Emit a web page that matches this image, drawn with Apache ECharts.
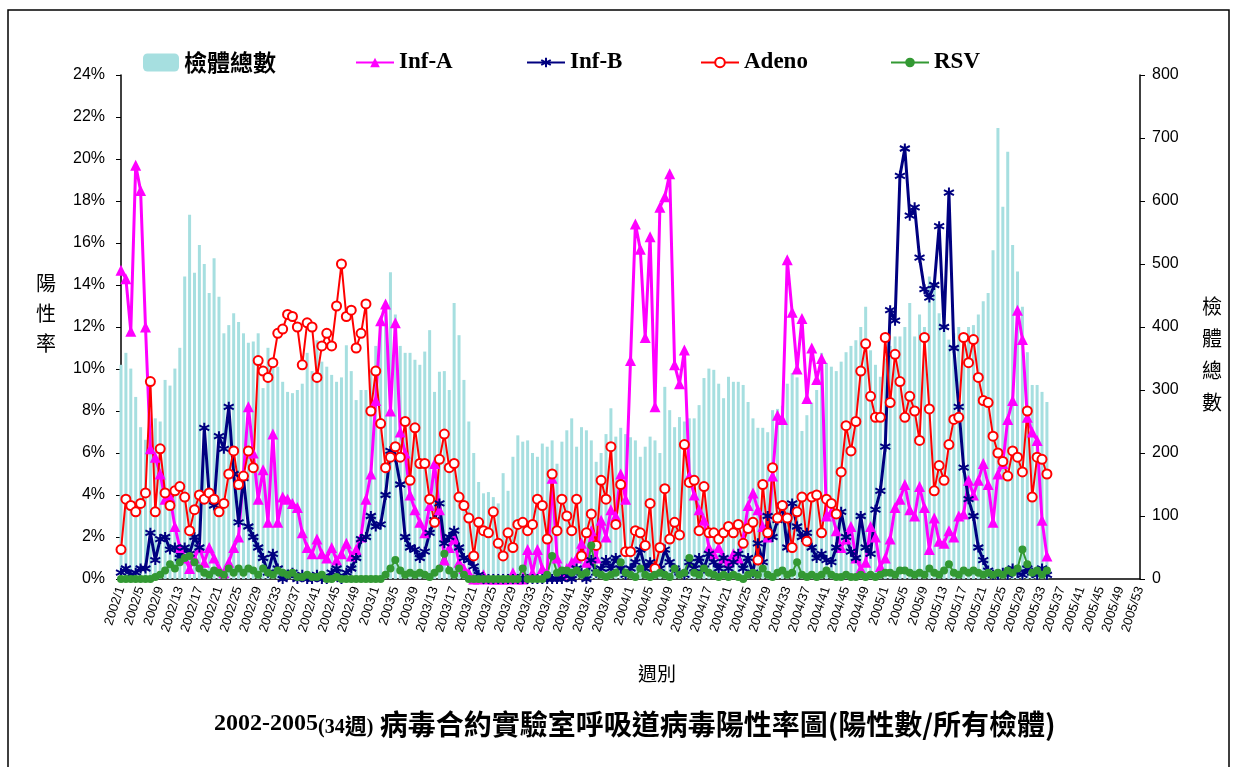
<!DOCTYPE html>
<html>
<head>
<meta charset="utf-8">
<script src="https://cdn.jsdelivr.net/npm/echarts@6/dist/echarts.min.js"></script>
<style>
  html, body { margin: 0; padding: 0; background: #fff; }
  #box { width: 1233px; height: 767px; }
</style>
</head>
<body>
<div id="box"></div>
<script>
// weeks per year on the category axis
var yearWeeks = [[2002, 52], [2003, 52], [2004, 52], [2005, 53]];
var weeks = [];
yearWeeks.forEach(function (yw) {
    for (var w = 1; w <= yw[1]; w++) weeks.push(yw[0] + '/' + w);
});

// 檢體總數 (right axis)
var total = [
    340, 359, 334, 289, 241, 221, 233, 255, 250, 316,
    307, 334, 367, 480, 578, 486, 530, 500, 454, 509,
    448, 390, 403, 422, 408, 390, 375, 377, 390, 303,
    367, 350, 337, 313, 297, 295, 300, 310, 359, 330,
    379, 345, 337, 324, 313, 320, 371, 330, 284, 300,
    300, 330, 370, 400, 420, 487, 420, 370, 359, 359,
    348, 340, 361, 395, 297, 329, 330, 300, 438, 387,
    316, 250, 200, 154, 136, 138, 130, 120, 168, 140,
    194, 228, 218, 220, 200, 194, 215, 210, 220, 183,
    218, 236, 255, 210, 241, 236, 220, 186, 200, 230,
    271, 226, 240, 230, 225, 220, 194, 210, 226, 220,
    200, 305, 268, 241, 257, 250, 255, 255, 276, 319,
    334, 332, 310, 287, 321, 313, 313, 308, 281, 255,
    240, 240, 233, 268, 270, 275, 310, 327, 320, 235,
    260, 280, 300, 359, 343, 337, 330, 345, 360, 370,
    379, 400, 432, 363, 340, 321, 350, 370, 385, 385,
    400, 438, 385, 420, 400, 480, 470, 422, 400, 380,
    390, 400, 380, 400, 403, 420, 441, 454, 522, 716,
    591, 678, 530, 488, 432, 360, 308, 308, 297, 281
];

// 陽性率 % (left axis)
var infA = [
    14.7, 14.3, 11.8, 19.7, 18.5, 12.0, 6.2, 5.8, 5.0, 3.8,
    3.9, 2.5, 1.5, 1.0, 0.5, 1.0, 1.5, 0.8, 1.5, 1.0,
    0.5, 0.3, 0.8, 1.5, 2.0, 5.0, 8.2, 6.0, 3.8, 5.2,
    2.7, 6.9, 2.7, 3.9, 3.8, 3.6, 3.4, 2.2, 1.5, 1.2,
    1.9, 1.2, 1.0, 1.5, 0.9, 1.2, 1.7, 1.1, 1.4, 2.0,
    3.8, 5.0, 8.5, 12.3, 13.1, 8.0, 12.2, 7.0, 6.0, 4.0,
    3.3, 2.7, 2.2, 3.5, 5.5, 3.3, 0.9, 1.5, 1.9, 0.8,
    0.5, 0.3, 0, 0, 0.2, 0, 0, 0, 0, 0,
    0.3, 0, 0, 1.4, 0.3, 1.4, 0.5, 0.3, 4.8, 1.0,
    0.2, 0.5, 0.8, 1.0, 1.7, 0.8, 2.3, 1.0, 2.8, 2.0,
    3.3, 3.0, 5.0, 3.8, 10.4, 16.9, 15.7, 11.5, 16.3, 8.2,
    17.7, 18.2, 19.3, 10.2, 9.3, 10.9, 4.9, 4.0, 3.3, 2.8,
    1.5, 1.2, 1.5, 1.0, 0.8, 1.2, 1.0, 1.9, 3.5, 4.1,
    3.3, 2.5, 2.0, 4.9, 7.8, 7.6, 15.2, 12.7, 10.0, 12.4,
    8.6, 11.0, 9.5, 10.5, 3.0, 3.2, 2.3, 1.5, 1.9, 2.5,
    1.0, 0.5, 0.8, 2.5, 2.0, 0.6, 1.0, 1.9, 3.4, 3.8,
    4.5, 3.3, 3.0, 4.4, 3.4, 1.4, 2.9, 1.8, 1.7, 2.3,
    2.0, 3.0, 3.1, 4.7, 4.0, 4.7, 5.5, 4.5, 2.7, 5.0,
    5.5, 7.6, 8.5, 12.8, 11.4, 7.7, 7.0, 6.6, 2.8, 1.1
];

var infB = [
    0.3, 0.5, 0.2, 0.3, 0.5, 0.5, 2.2, 0.9, 1.9, 2.0,
    1.4, 1.5, 1.0, 1.5, 1.2, 2.0, 1.5, 7.2, 4.0, 3.5,
    6.8, 6.2, 8.2, 5.0, 2.7, 4.8, 2.5, 2.0, 1.5, 1.0,
    0.3, 1.2, 0.5, 0, 0.2, 0.3, 0, 0.2, 0, 0,
    0.2, 0, 0, 0.3, 0.5, 0, 0.3, 0.5, 1.0, 1.9,
    2.0, 3.0, 2.5, 2.6, 4.0, 6.1, 5.8, 4.5, 2.0, 1.5,
    1.4, 1.0, 1.3, 2.2, 2.8, 3.6, 1.7, 2.0, 2.3, 1.5,
    1.0, 0.9, 0.6, 0.2, 0, 0, 0, 0, 0, 0,
    0, 0, 0, 0, 0, 0, 0, 0, 0, 0,
    0, 0.3, 0, 0.5, 0.3, 0, 0.9, 0.3, 0.5, 0.9,
    0.5, 1.0, 0.5, 0.2, 0.5, 0.8, 1.4, 0.5, 0.8, 0.3,
    0.5, 1.4, 0.8, 0.5, 0.3, 0.2, 0.8, 0.5, 1.0, 0.5,
    1.2, 0.8, 0.5, 1.0, 0.5, 0.8, 1.2, 0.5, 1.0, 0.3,
    1.7, 0.8, 3.0, 2.0, 2.8, 3.5, 1.5, 3.6, 2.5, 2.0,
    2.2, 1.5, 1.0, 1.2, 0.9, 0.8, 1.5, 3.2, 2.0, 1.3,
    1.0, 3.0, 1.5, 1.2, 3.3, 4.2, 6.3, 12.8, 12.3, 19.2,
    20.5, 17.3, 17.7, 15.3, 13.8, 13.4, 14.0, 16.8, 12.0, 18.4,
    11.0, 8.2, 5.3, 3.8, 3.0, 1.5, 0.9, 0.4, 0.2, 0.2,
    0.3, 0.2, 0.5, 0.3, 0.2, 0.5, 0.3, 0.2, 0.5, 0.2
];

var adeno = [
    1.4, 3.8, 3.5, 3.2, 3.6, 4.1, 9.4, 3.2, 6.2, 4.1,
    3.5, 4.2, 4.4, 3.9, 2.3, 3.3, 4.0, 3.8, 4.1, 3.8,
    3.2, 3.6, 5.0, 6.1, 4.5, 4.9, 6.1, 5.3, 10.4, 9.9,
    9.6, 10.3, 11.7, 11.9, 12.6, 12.5, 12.0, 10.2, 12.2, 12.0,
    9.6, 11.1, 11.7, 11.1, 13.0, 15.0, 12.5, 12.8, 11.0, 11.7,
    13.1, 8.0, 9.9, 7.4, 5.3, 5.8, 6.3, 5.8, 7.5, 4.7,
    7.2, 5.5, 5.5, 3.8, 2.7, 5.7, 6.9, 5.3, 5.5, 3.9,
    3.5, 2.9, 1.1, 2.7, 2.3, 2.2, 3.2, 1.7, 1.1, 2.2,
    1.5, 2.6, 2.7, 2.3, 2.6, 3.8, 3.5, 1.9, 5.0, 2.3,
    3.8, 3.0, 2.3, 3.8, 1.1, 2.2, 3.1, 1.6, 4.7, 3.8,
    6.3, 2.6, 4.5, 1.3, 1.3, 2.3, 2.2, 1.6, 3.6, 0.5,
    1.5, 4.3, 1.9, 2.7, 2.1, 6.4, 4.6, 4.7, 2.3, 4.4,
    2.2, 2.2, 1.9, 2.2, 2.5, 2.2, 2.6, 1.7, 2.4, 2.7,
    0.9, 4.5, 2.2, 5.3, 2.9, 3.5, 2.9, 1.5, 3.2, 3.9,
    1.8, 3.9, 4.0, 2.2, 3.8, 3.6, 3.1, 5.1, 7.3, 6.1,
    7.5, 9.9, 11.2, 8.7, 7.7, 7.7, 11.5, 8.4, 10.7, 9.4,
    7.7, 8.7, 8.0, 6.6, 11.5, 8.1, 4.2, 5.4, 4.7, 6.4,
    7.6, 7.7, 11.5, 10.3, 11.4, 9.6, 8.5, 8.4, 6.8, 6.0,
    5.6, 4.9, 6.1, 5.8, 5.1, 8.0, 3.9, 5.8, 5.7, 5.0
];

var rsv = [
    0, 0, 0, 0, 0, 0, 0, 0.1, 0.2, 0.4,
    0.7, 0.5, 0.8, 1.0, 1.1, 0.8, 0.5, 0.3, 0.2, 0.4,
    0.3, 0.2, 0.5, 0.3, 0.5, 0.3, 0.5, 0.4, 0.2, 0.5,
    0.3, 0.2, 0.4, 0.3, 0.2, 0.3, 0.1, 0.1, 0.2, 0.1,
    0.1, 0.2, 0, 0, 0.1, 0, 0, 0, 0, 0,
    0, 0, 0, 0, 0.2, 0.5, 0.9, 0.4, 0.2, 0.3,
    0.2, 0.3, 0.2, 0.1, 0.3, 0.5, 1.2, 0.4, 0.2, 0.5,
    0.2, 0, 0, 0, 0, 0, 0, 0, 0, 0,
    0, 0, 0.5, 0, 0, 0, 0, 0.2, 1.1, 0.3,
    0.4, 0.4, 0.3, 0.4, 0.2, 0.3, 1.6, 0.3, 0.2, 0.1,
    0.2, 0.3, 0.8, 0.3, 0.2, 0.1, 0.5, 0.2, 0.1, 0.2,
    0.3, 0.2, 0.1, 0.5, 0.2, 0.3, 1.0, 0.3, 0.2, 0.5,
    0.3, 0.2, 0.1, 0.2, 0.1, 0.2, 0.1, 0, 0.2, 0.3,
    0.2, 0.5, 0.2, 0.1, 0.3, 0.4, 0.2, 0.3, 0.8, 0.2,
    0.1, 0.2, 0.1, 0.2, 0.4, 0.2, 0.1, 0.1, 0.2, 0.1,
    0.1, 0.2, 0.1, 0.2, 0.1, 0.2, 0.3, 0.3, 0.2, 0.4,
    0.4, 0.3, 0.2, 0.3, 0.2, 0.5, 0.3, 0.2, 0.4, 0.7,
    0.3, 0.2, 0.4, 0.3, 0.4, 0.3, 0.2, 0.3, 0.2, 0.3,
    0.2, 0.4, 0.3, 0.5, 1.4, 0.7, 0.3, 0.4, 0.2, 0.4
];

var pctTicks = [0, 2, 4, 6, 8, 10, 12, 14, 16, 18, 20, 22, 24];
var cntTicks = [0, 100, 200, 300, 400, 500, 600, 700, 800];

var serif = '"Liberation Serif", "Times New Roman", serif';
var cjk = '"Noto Sans CJK TC", "Noto Sans CJK SC", sans-serif';
var sans = '"Liberation Sans", Arial, sans-serif';
var starPath = 'path://M5,0L5,10M0.7,2.5L9.3,7.5M9.3,2.5L0.7,7.5';

function legendAt(name, left, font, size) {
    return {
        data: [name],
        left: left,
        top: 51,
        padding: 0,
        itemWidth: name == '檢體總數' ? 36 : 38,
        itemHeight: name == '檢體總數' ? 18 : 12,
        itemGap: 5,
        textStyle: { fontFamily: font, fontSize: size, fontWeight: 'bold', color: '#000' }
    };
}

var myChart = echarts.init(document.getElementById('box'));
var option = {
    backgroundColor: '#fff',
    animation: false,
    title: {
        text: '{a|2002-2005}{b|(34}{w|週}{b|)}{c| 病毒合約實驗室呼吸道病毒陽性率圖(陽性數/所有檢體)}',
        left: 214,
        top: 710,
        padding: 0,
        textStyle: {
            rich: {
                a: { fontFamily: serif, fontWeight: 'bold', fontSize: 24, color: '#000' },
                b: { fontFamily: serif, fontWeight: 'bold', fontSize: 20, color: '#000', padding: [8, 0, 0, 0] },
                w: { fontFamily: cjk, fontWeight: 'bold', fontSize: 22, color: '#000', padding: [4, 0, 0, 0] },
                c: { fontFamily: cjk, fontWeight: 'bold', fontSize: 28, color: '#000' }
            }
        }
    },
    legend: [
        legendAt('檢體總數', 143, cjk, 23),
        legendAt('Inf-A', 355, serif, 23),
        legendAt('Inf-B', 526, serif, 23),
        legendAt('Adeno', 700, serif, 23),
        legendAt('RSV', 890, serif, 23)
    ],
    grid: {
        left: 121,
        right: 93,
        top: 75,
        bottom: 188,
        containLabel: false
    },
    xAxis: {
        type: 'category',
        data: weeks,
        boundaryGap: false,
        axisLine: { lineStyle: { color: '#000', width: 1.5 } },
        axisTick: { show: false },
        axisLabel: {
            interval: 3,
            rotate: 72,
            fontFamily: sans,
            fontSize: 13,
            color: '#000',
            margin: 8
        },
        splitLine: { show: false }
    },
    yAxis: [
        {
            type: 'value',
            min: pctTicks[0],
            max: pctTicks[pctTicks.length - 1],
            interval: 2,
            axisLine: { show: true, lineStyle: { color: '#000', width: 1.5 } },
            axisTick: { show: true, length: 5, lineStyle: { color: '#000' } },
            axisLabel: { formatter: '{value}%', fontFamily: sans, fontSize: 16, color: '#000', margin: 16 },
            splitLine: { show: false }
        },
        {
            type: 'value',
            min: cntTicks[0],
            max: cntTicks[cntTicks.length - 1],
            interval: 100,
            axisLine: { show: true, lineStyle: { color: '#000', width: 1.5 } },
            axisTick: { show: true, length: 5, lineStyle: { color: '#000' } },
            axisLabel: { fontFamily: sans, fontSize: 16, color: '#000', margin: 12 },
            splitLine: { show: false }
        }
    ],
    graphic: [
        { type: 'rect', shape: { x: 8, y: 10, width: 1221, height: 800 }, style: { fill: 'none', stroke: '#000', lineWidth: 1.5 }, silent: true },
        { type: 'text', left: 36, top: 268, style: { text: '陽\n性\n率', font: '20px ' + cjk, fill: '#000', lineHeight: 30 } },
        { type: 'text', left: 1202, top: 290, style: { text: '檢\n體\n總\n數', font: '20px ' + cjk, fill: '#000', lineHeight: 32 } },
        { type: 'text', left: 638, top: 664, style: { text: '週別', font: '19px ' + cjk, fill: '#000' } }
    ],
    series: [
        {
            name: '檢體總數',
            type: 'bar',
            yAxisIndex: 1,
            data: total,
            barWidth: 3,
            itemStyle: { color: '#a6dfe0' }
        },
        {
            name: 'Inf-A',
            type: 'line',
            data: infA,
            symbol: 'triangle',
            symbolSize: 11,
            showAllSymbol: true,
            lineStyle: { color: '#ff00ff', width: 3 },
            itemStyle: { color: '#ff00ff' }
        },
        {
            name: 'Inf-B',
            type: 'line',
            data: infB,
            symbol: starPath,
            symbolSize: 10,
            showAllSymbol: true,
            lineStyle: { color: '#000080', width: 3 },
            itemStyle: { color: '#000080', borderColor: '#000080', borderWidth: 2 }
        },
        {
            name: 'Adeno',
            type: 'line',
            data: adeno,
            symbol: 'emptyCircle',
            symbolSize: 9,
            showAllSymbol: true,
            lineStyle: { color: '#ff0000', width: 2 },
            itemStyle: { color: '#ff0000', borderColor: '#ff0000', borderWidth: 2 }
        },
        {
            name: 'RSV',
            type: 'line',
            data: rsv,
            symbol: 'circle',
            symbolSize: 8,
            showAllSymbol: true,
            lineStyle: { color: '#339933', width: 2 },
            itemStyle: { color: '#339933' }
        }
    ]
};
myChart.setOption(option);
</script>
</body>
</html>
